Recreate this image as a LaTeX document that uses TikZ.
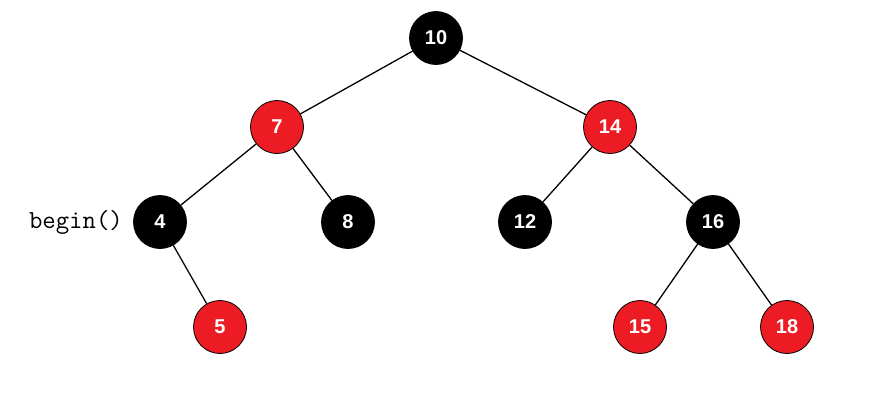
\documentclass[tikz,border=0pt]{standalone}
\usepackage{fontspec}
\setmainfont{Liberation Sans}
\definecolor{rbred}{HTML}{ED1C24}
\newcommand{\keyval}[1]{\bfseries #1}

\begin{document}
\begin{tikzpicture}[x=1pt,y=-1pt]
	\tikzset{rbnode/.style={circle,draw=black,thick,minimum size=53pt,inner sep=0pt,text=white,font=\fontsize{20}{20}\selectfont\bfseries}}
	\tikzset{blacknode/.style={rbnode,fill=black}}
	\tikzset{rednode/.style={rbnode,fill=rbred}}
	\tikzset{link/.style={draw=black,line width=1.3pt}}
	\useasboundingbox (0,0) rectangle (880,405);
	% nodes, by level
	\node[blacknode] (n10) at (436,38) {\keyval{10}};
	\node[rednode] (n7) at (277,127) {\keyval{7}};
	\node[rednode] (n14) at (610,127) {\keyval{14}};
	\node[blacknode] (n4) at (160,222) {\keyval{4}};
	\node[blacknode] (n8) at (348,222) {\keyval{8}};
	\node[blacknode] (n12) at (525,222) {\keyval{12}};
	\node[blacknode] (n16) at (713,222) {\keyval{16}};
	\node[rednode] (n5) at (220,327) {\keyval{5}};
	\node[rednode] (n15) at (640,327) {\keyval{15}};
	\node[rednode] (n18) at (787,327) {\keyval{18}};
	% label
	\node[font=\ttfamily\fontsize{26}{26}\selectfont,anchor=east,inner sep=0pt] (lbegin) at (123,222) {begin()};
	% edges
	\draw[link] (n10) -- (n7);
	\draw[link] (n10) -- (n14);
	\draw[link] (n7) -- (n4);
	\draw[link] (n7) -- (n8);
	\draw[link] (n14) -- (n12);
	\draw[link] (n14) -- (n16);
	\draw[link] (n4) -- (n5);
	\draw[link] (n16) -- (n15);
	\draw[link] (n16) -- (n18);
\end{tikzpicture}
\end{document}
